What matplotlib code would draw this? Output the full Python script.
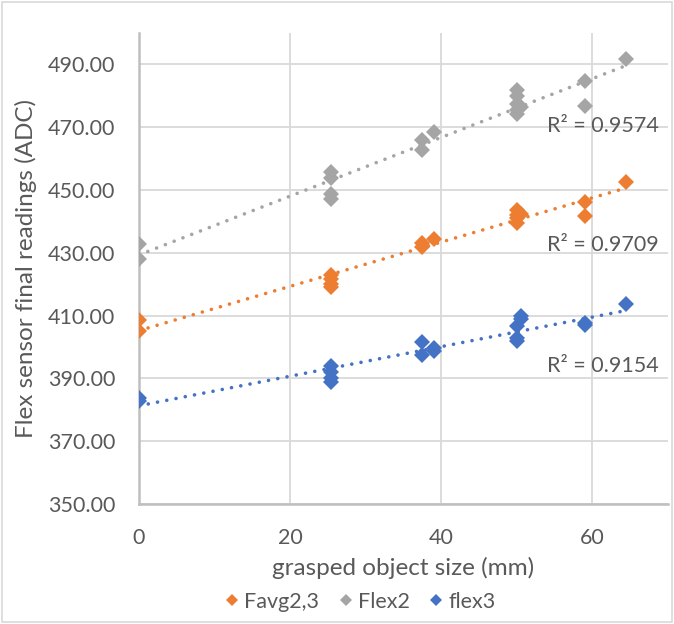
import numpy as np
import matplotlib
matplotlib.use("Agg")
import matplotlib.pyplot as plt
from matplotlib.patches import Rectangle

# ---- data ----
favg_x = [0, 0, 25.4, 25.4, 25.4, 25.4, 37.5, 37.5, 39, 50, 50, 50, 50, 50.5, 59, 59, 64.5]
favg_y = [408.5, 405.2, 423, 421.5, 420, 419, 432, 433, 434.5, 443.5, 442, 441, 439.5, 442.5, 446.3, 441.8, 452.7]

flex2_x = [0, 0, 25.4, 25.4, 25.4, 25.4, 37.5, 37.5, 39, 50, 50, 50, 50, 50, 50.5, 59, 59, 64.5]
flex2_y = [432.7, 428.0, 455.8, 453.8, 448.8, 447.2, 465.8, 462.8, 468.5, 481.8, 479.8, 477.5, 475.5, 474.2, 476.5, 484.6, 476.6, 491.8]

flex3_x = [0, 0, 25.4, 25.4, 25.4, 25.4, 37.5, 37.5, 39, 39, 50, 50, 50, 50.5, 50.5, 59, 59, 64.5]
flex3_y = [383.8, 382.8, 393.9, 392.0, 390.0, 388.8, 401.6, 397.6, 399.6, 398.8, 406.6, 402.8, 401.8, 409.8, 408.8, 407.8, 406.9, 413.7]

r2_labels = ["R² = 0.9574", "R² = 0.9709", "R² = 0.9154"]
r2_pos_y = [470.3, 432.4, 393.9]

series_names = ["Favg2,3", "Flex2", "flex3"]
colors = ["#ED7D31", "#A5A5A5", "#4472C4"]

xticks = [0, 20, 40, 60]
yticks = [350, 370, 390, 410, 430, 450, 470, 490]

plt.rcParams['font.family'] = ['Lato', 'DejaVu Sans']

fig = plt.figure(figsize=(6.74, 6.24), dpi=100)
ax = fig.add_axes([139/674, 1-504/624, (668-139)/674, (504-33)/624])

series = [(favg_x, favg_y), (flex2_x, flex2_y), (flex3_x, flex3_y)]
handles = []
for (xs, ys), c, name in zip(series, colors, series_names):
    h, = ax.plot(xs, ys, linestyle='none', marker='D', markersize=8.3, color=c,
                 markeredgewidth=0, label=name, zorder=3)
    handles.append(h)

for (xs, ys), c in zip(series, colors):
    xs = np.asarray(xs); ys = np.asarray(ys)
    m, b = np.polyfit(xs, ys, 1)
    xx = np.array([0, xs.max()])
    ax.plot(xx, m*xx + b, color=c, linewidth=2.6, linestyle=(0, (0.01, 2.6)),
            dash_capstyle='round', zorder=4)

for lab, yy in zip(r2_labels, r2_pos_y):
    ax.text(61.4, yy, lab, ha='center', va='center', fontsize=15.5, color='#595959', zorder=5)

ax.set_xlim(0, 70)
ax.set_ylim(350, 500)
ax.set_xticks(xticks)
ax.set_yticks(yticks)
ax.set_yticklabels([f"{v:.2f}" for v in yticks])
ax.grid(True, color='#d9d9d9', linewidth=1.3)
ax.set_axisbelow(True)
for s in ['top', 'right']:
    ax.spines[s].set_visible(False)
for s in ['left', 'bottom']:
    ax.spines[s].set_color('#bfbfbf')
    ax.spines[s].set_linewidth(1.8)
ax.tick_params(length=0, labelsize=15.5, labelcolor='#595959')
ax.tick_params(axis='y', pad=17)
ax.tick_params(axis='x', pad=17)

ax.set_xlabel("grasped object size (mm)", fontsize=17.5, color='#595959', labelpad=7)
ax.set_ylabel("Flex sensor final readings (ADC)", fontsize=17.5, color='#595959', labelpad=8)

leg = fig.legend(handles=handles, loc='center', bbox_to_anchor=(361/674, 1-602/624),
                 ncol=3, frameon=False, fontsize=15.5, handlelength=0.5, handletextpad=0.3,
                 columnspacing=1.0, labelcolor='#595959', markerscale=0.72)

fig.patches.append(Rectangle((0.003, 0.003), 0.994, 0.994, transform=fig.transFigure,
                             fill=False, edgecolor='#d9d9d9', linewidth=1.2))

fig.savefig("out.png", dpi=100, facecolor='white')
